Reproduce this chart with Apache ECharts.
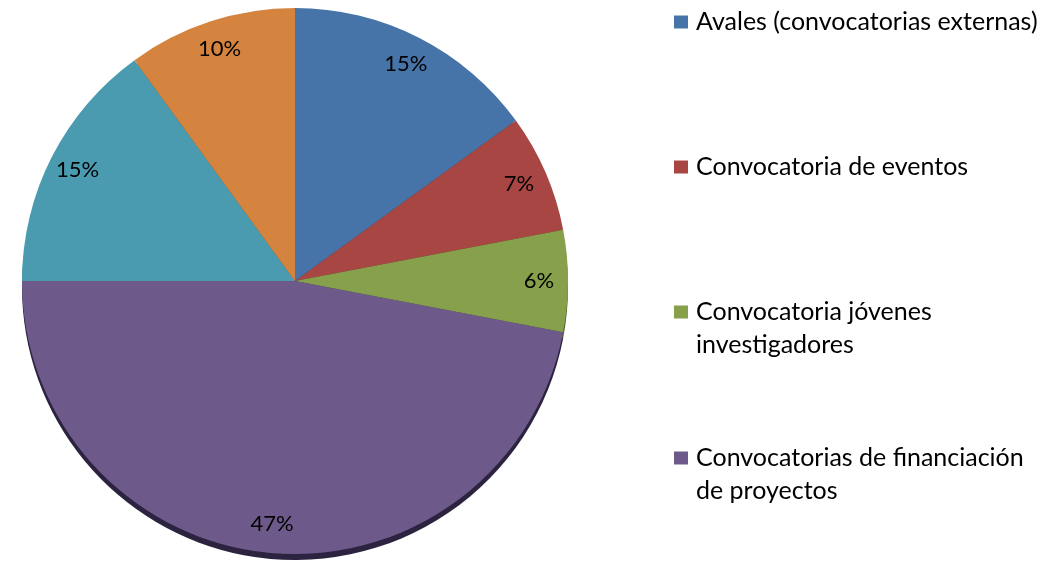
<!DOCTYPE html>
<html>
<head>
<meta charset="utf-8">
<script src="https://cdn.jsdelivr.net/npm/echarts@6/dist/echarts.min.js"></script>
<style>
  html, body { margin: 0; padding: 0; background: #fff; }
  #chart { width: 1044px; height: 564px; }
</style>
</head>
<body>
<div id="chart"></div>
<script>
// slices, clockwise from 12 o'clock
const names = [
  'Avales (convocatorias externas)',
  'Convocatoria de eventos',
  'Convocatoria jóvenes investigadores',
  'Convocatorias de financiación de proyectos',
  'Otros (5)',
  'Otros (6)'
]
const values = [15, 7, 6, 47, 15, 10]
const colors = ['#4774a8', '#a84644', '#86a04b', '#6e5a8a', '#4a9bb0', '#d5843f']
const rimColors = ['#2a4566', '#5e2625', '#4d5e29', '#2c2340', '#2a5a66', '#7a4a22']
// legend only shows the first four items, with the line breaks of the reference
// (a blank first line keeps the marker level with the first text line)
const legendNames = names.slice(0, 4)
const legendText = {
  'Convocatoria jóvenes investigadores': ' \nConvocatoria jóvenes\ninvestigadores',
  'Convocatorias de financiación de proyectos': ' \nConvocatorias de financiación\nde proyectos'
}
const legendTops = [5.5, 150.5, 262.5, 408.5]

const chart = echarts.init(document.getElementById('chart'))

const center = [295, 281]
const radius = 273

function slices(palette) {
  return values.map((v, i) => ({ name: names[i], value: v, itemStyle: { color: palette[i] } }))
}

const legends = legendNames.map((n, i) => ({
  data: [n],
  left: 674,
  top: legendTops[i],
  padding: 0,
  icon: 'rect',
  itemWidth: 14,
  itemHeight: 13,
  selectedMode: false,
  formatter: name => legendText[name] || name,
  textStyle: {
    fontFamily: 'Lato',
    fontSize: 25,
    color: '#000',
    lineHeight: 33,
    padding: [0, 0, 0, 3]
  }
}))

chart.setOption({
  backgroundColor: '#fff',
  animation: false,
  color: colors,
  legend: legends,
  series: [
    {
      type: 'pie',
      silent: true,
      z: 3,
      center: center,
      radius: radius,
      startAngle: 90,
      label: { show: false },
      labelLine: { show: false },
      data: slices(colors)
    },
    {
      // dark rim under the pie
      type: 'pie',
      silent: true,
      z: 1,
      center: [center[0], center[1] + 6],
      radius: radius,
      startAngle: 90,
      label: { show: false },
      labelLine: { show: false },
      data: slices(rimColors)
    },
    {
      // percentage labels placed near the outer edge
      type: 'pie',
      silent: true,
      z: 4,
      center: center,
      radius: [radius - 64, radius],
      startAngle: 90,
      itemStyle: { color: 'rgba(0,0,0,0)' },
      labelLine: { show: false },
      label: {
        show: true,
        position: 'inside',
        formatter: p => p.value + '%',
        fontFamily: 'Lato',
        fontSize: 22,
        color: '#000'
      },
      data: values.map((v, i) => ({ name: names[i], value: v }))
    }
  ]
})
</script>
</body>
</html>
